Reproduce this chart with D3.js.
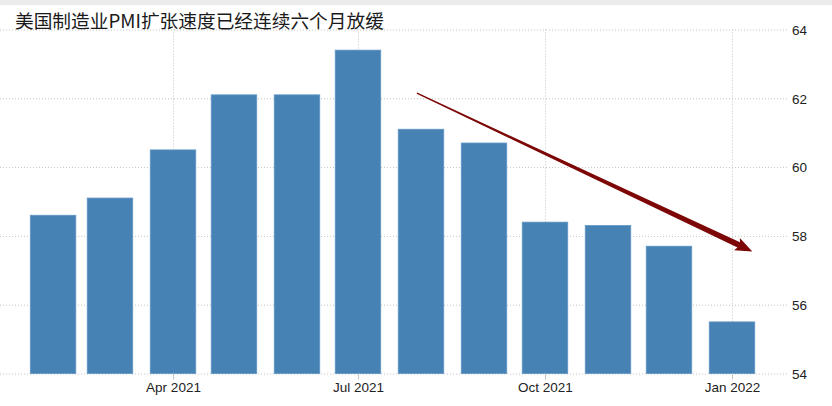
<!DOCTYPE html>
<html><head><meta charset="utf-8">
<script src="https://cdn.jsdelivr.net/npm/d3@7"></script>
<style>html,body{margin:0;padding:0;background:#fff;}svg{display:block;}</style>
</head><body>
<svg id="c" width="832" height="406"></svg>
<script>
const title = "美国制造业PMI扩张速度已经连续六个月放缓";
const months = ["2021-02","2021-03","2021-04","2021-05","2021-06","2021-07","2021-08","2021-09","2021-10","2021-11","2021-12","2022-01"];
const pmi = [58.6, 59.1, 60.5, 62.1, 62.1, 63.4, 61.1, 60.7, 58.4, 58.3, 57.7, 55.5];
const yTicks = [54, 56, 58, 60, 62, 64];
const xTickDates = ["2021-04","2021-07","2021-10","2022-01"];
const xTickLabels = ["Apr 2021","Jul 2021","Oct 2021","Jan 2022"];
const arrowFrom = ["2021-07-30", 62.15];
const arrowTo = ["2022-01-11", 57.55];

const parse = d3.utcParse("%Y-%m");
const parseDay = d3.utcParse("%Y-%m-%d");
const svg = d3.select("#c");

const x = d3.scaleUtc().domain([parse("2021-04"), parse("2022-01")]).range([173, 732]);
const y = d3.scaleLinear().domain([54, 64]).range([373.5, 29.5]);
const barW = 45.5;

svg.append("rect").attr("x",0).attr("y",0).attr("width",832).attr("height",5).attr("fill","#ececec");

// horizontal grid
const yAxis = d3.axisRight(y).tickValues(yTicks).tickSize(788).tickFormat(d=>d);
const gy = svg.append("g").call(yAxis);
gy.select(".domain").remove();
gy.selectAll(".tick line").attr("stroke","#c4c4c4").attr("stroke-dasharray","1,2");
gy.selectAll(".tick text").attr("x",792).attr("dy","0.35em").attr("text-anchor","start")
  .attr("font-family","'Liberation Sans', Arial, sans-serif").attr("font-size",13.5).attr("fill","#222");

// vertical grid
svg.append("g").selectAll("line").data(xTickDates).join("line")
  .attr("x1",d=>x(parse(d))+0.5).attr("x2",d=>x(parse(d))+0.5)
  .attr("y1",y(64)).attr("y2",y(54))
  .attr("stroke","#c4c4c4").attr("stroke-dasharray","1,2");

// bars
svg.append("g").selectAll("rect").data(months).join("rect")
  .attr("x",(d)=>x(parse(d))-barW/2)
  .attr("width",barW)
  .attr("y",(d,i)=>y(pmi[i]))
  .attr("height",(d,i)=>y(54)-y(pmi[i]))
  .attr("fill","#4682b4")
  .attr("stroke","#5f95c4").attr("stroke-width",0.8);

// x axis
const xAxis = d3.axisBottom(x).tickValues(xTickDates.map(parse)).tickSize(6)
  .tickFormat((d,i)=>xTickLabels[i]);
const gx = svg.append("g").attr("transform",`translate(0,${y(54)})`).call(xAxis);
gx.select(".domain").remove();
gx.selectAll(".tick line").attr("stroke","#c4c4c4");
gx.selectAll(".tick text").attr("y",9).attr("dy","0.71em")
  .attr("font-family","'Liberation Sans', Arial, sans-serif").attr("font-size",13.5).attr("fill","#222");

// title
svg.append("text").attr("x",15).attr("y",28).text(title)
  .attr("font-family","'Noto Sans CJK SC', sans-serif").attr("font-size",18.7).attr("fill","#1a1a1a");

// arrow (tapered)
const x0 = x(parseDay(arrowFrom[0])), y0 = y(arrowFrom[1]);
const x1 = x(parseDay(arrowTo[0])), y1 = y(arrowTo[1]);
const dx = x1-x0, dy = y1-y0, L = Math.hypot(dx,dy);
const ux = dx/L, uy = dy/L, nx = -uy, ny = ux;
const headL = 15, headW = 6.8, w0 = 0.6, w1 = 2.9;
const bx = x1-ux*headL, by = y1-uy*headL;
const pts = [
  [x0+nx*w0, y0+ny*w0],
  [bx+nx*w1, by+ny*w1],
  [bx+nx*headW - ux*2, by+ny*headW - uy*2],
  [x1, y1],
  [bx-nx*headW - ux*2, by-ny*headW - uy*2],
  [bx-nx*w1, by-ny*w1],
  [x0-nx*w0, y0-ny*w0]
];
svg.append("path").attr("d", d3.line()(pts)+"Z").attr("fill","#7d0606");
</script>
</body></html>
